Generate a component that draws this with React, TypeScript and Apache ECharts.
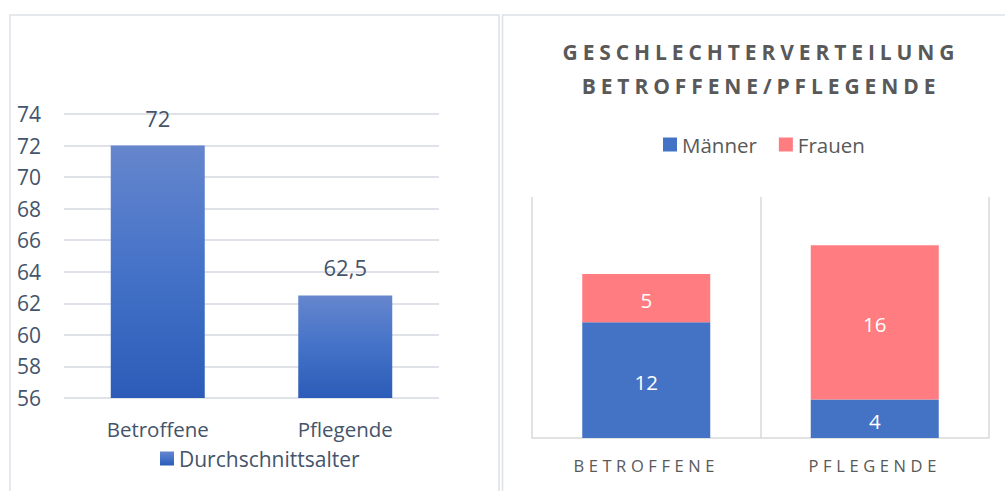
import React, { useEffect, useRef } from 'react';
import * as echarts from 'echarts';

// ---- data ----
const ageCategories = ['Betroffene', 'Pflegende'];
const ageValues = [72, 62.5];
const ageAxisMin = 56;
const ageAxisMax = 74;
const ageAxisStep = 2;
const ageLegend = 'Durchschnittsalter';

const genderCategories = ['BETROFFENE', 'PFLEGENDE'];
const menName = 'Männer';
const womenName = 'Frauen';
const menValues = [12, 4];
const womenValues = [5, 16];
const genderAxisMax = 25;
const titleLines = ['GESCHLECHTERVERTEILUNG', 'BETROFFENE/PFLEGENDE'];

const slate = '#44546a';
const gray = '#595959';
const font = '"Open Sans", "Noto Sans", sans-serif';
const border = '#dde2e9';

export default function App() {
  const ref = useRef<HTMLDivElement>(null);
  useEffect(() => {
    const el = ref.current!;
    const chart = echarts.init(el, undefined, { renderer: 'svg' });
    const option: any = {
      animation: false,
      textStyle: { fontFamily: font },
      graphic: [
        { type: 'rect', silent: true, shape: { x: 10, y: 15, width: 489, height: 500 }, style: { fill: 'none', stroke: border, lineWidth: 1.5 } },
        { type: 'rect', silent: true, shape: { x: 502.5, y: 15, width: 540, height: 500 }, style: { fill: 'none', stroke: border, lineWidth: 1.5 } },
        { type: 'text', silent: true, x: 761, y: 52, style: { text: titleLines[0], fill: gray, fontSize: 21, fontWeight: 'bold', fontFamily: font, textAlign: 'center', textVerticalAlign: 'middle' } },
        { type: 'text', silent: true, x: 761, y: 86, style: { text: titleLines[1], fill: gray, fontSize: 21, fontWeight: 'bold', fontFamily: font, textAlign: 'center', textVerticalAlign: 'middle' } },
      ],
      legend: [
        {
          data: [ageLegend], left: 160, top: 448, padding: 0, icon: 'rect', itemWidth: 14, itemHeight: 14, itemGap: 6,
          textStyle: { fontSize: 21, color: slate, fontFamily: font },
        },
        {
          data: [menName, womenName], left: 663, top: 134, padding: 0, icon: 'rect', itemWidth: 14, itemHeight: 14, itemGap: 22,
          textStyle: { fontSize: 20.5, color: gray, fontFamily: font },
        },
      ],
      grid: [
        { left: 64, top: 114, width: 375, height: 284 },
        { left: 532, top: 197, width: 457, height: 241 },
      ],
      xAxis: [
        {
          type: 'category', gridIndex: 0, data: ageCategories,
          axisLine: { show: false }, axisTick: { show: false },
          axisLabel: { fontSize: 20.5, color: slate, margin: 20, fontFamily: font },
        },
        {
          type: 'category', gridIndex: 1, data: genderCategories,
          axisLine: { lineStyle: { color: '#d9d9d9', width: 1.5 } }, axisTick: { show: false },
          splitLine: { show: true, lineStyle: { color: '#d9d9d9', width: 1.5 } },
          axisLabel: { fontSize: 16.5, color: gray, margin: 19, fontFamily: font },
        },
      ],
      yAxis: [
        {
          type: 'value', gridIndex: 0, min: ageAxisMin, max: ageAxisMax, interval: ageAxisStep,
          axisLine: { show: false }, axisTick: { show: false },
          axisLabel: { fontSize: 21, color: slate, margin: 23, fontFamily: font },
          splitLine: { lineStyle: { color: '#dfe2e8', width: 2 } },
        },
        { type: 'value', gridIndex: 1, min: 0, max: genderAxisMax, show: false },
      ],
      series: [
        {
          type: 'bar', name: ageLegend, xAxisIndex: 0, yAxisIndex: 0, data: ageValues, barWidth: 94,
          itemStyle: {
            color: new echarts.graphic.LinearGradient(0, 0, 0, 1, [
              { offset: 0, color: '#6686cd' },
              { offset: 0.5, color: '#4472c8' },
              { offset: 1, color: '#2c5cb8' },
            ]),
          },
          label: {
            show: true, position: 'top', distance: 17, fontSize: 22, color: slate, fontFamily: font,
            formatter: (p: any) => String(p.value).replace('.', ','),
          },
        },
        {
          type: 'bar', name: menName, stack: 'g', xAxisIndex: 1, yAxisIndex: 1, data: menValues, barWidth: 128,
          itemStyle: { color: '#4472c4' },
          label: { show: true, position: 'inside', offset: [0, 2], fontSize: 20.5, color: '#ffffff', fontFamily: font },
        },
        {
          type: 'bar', name: womenName, stack: 'g', xAxisIndex: 1, yAxisIndex: 1, data: womenValues, barWidth: 128,
          itemStyle: { color: '#ff7c80' },
          label: { show: true, position: 'inside', offset: [0, 2], fontSize: 20.5, color: '#ffffff', fontFamily: font },
        },
      ],
    };
    chart.setOption(option);
    const spacing: Record<string, string> = {
      [titleLines[0]]: '4.9px',
      [titleLines[1]]: '4.9px',
      [genderCategories[0]]: '4.6px',
      [genderCategories[1]]: '4.6px',
    };
    const apply = () => {
      el.querySelectorAll('text').forEach((t) => {
        const s = spacing[(t.textContent || '').trim()];
        if (s) t.setAttribute('letter-spacing', s);
      });
    };
    apply();
    chart.on('finished', apply);
    return () => chart.dispose();
  }, []);
  return <div ref={ref} style={{ position: 'absolute', left: 0, top: 0, width: 1005, height: 491 }} />;
}
